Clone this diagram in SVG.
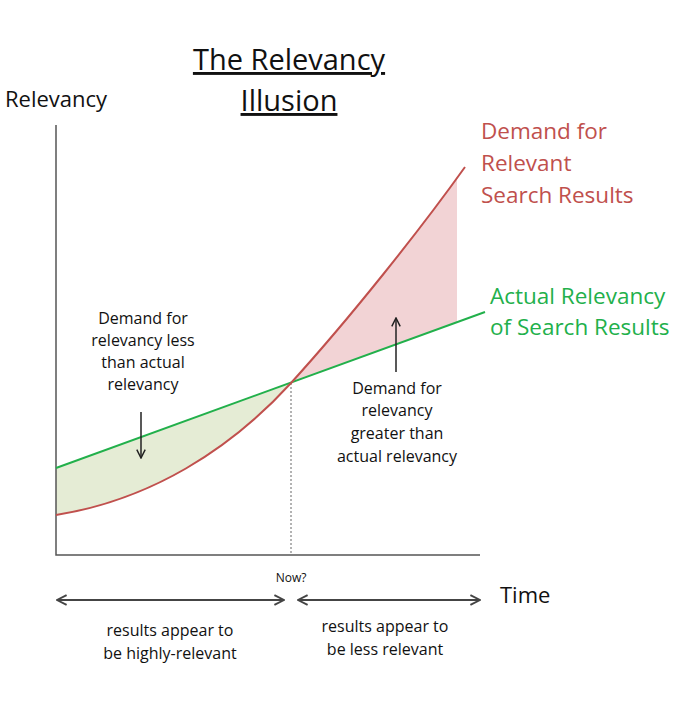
<svg xmlns="http://www.w3.org/2000/svg" width="692" height="702" viewBox="0 0 692 702">
<style>
text{font-family:"Open Sans","Liberation Sans",Arial,sans-serif;}
.lbl{font-size:16px;fill:#111;text-anchor:middle;}
.ax{stroke:#555;stroke-width:1.5;fill:none;}
.dbl{stroke:#444;stroke-width:2;fill:none;marker-start:url(#ah);marker-end:url(#ah);}
</style>
<defs>
<marker id="ah" viewBox="0 0 10 10" refX="9" refY="5" markerWidth="6" markerHeight="6" orient="auto-start-reverse"><path d="M1,1 L9,5 L1,9" fill="none" stroke="#444" stroke-width="1.6"/></marker>
<marker id="ua" viewBox="0 0 10 10" refX="9" refY="5" markerWidth="7" markerHeight="7" orient="auto"><path d="M1,1 L9,5 L1,9" fill="none" stroke="#222" stroke-width="1.4"/></marker>
<clipPath id="cl"><rect x="0" y="0" width="457" height="702"/></clipPath>
</defs>
<rect width="692" height="702" fill="#fff"/>
<g id="title">
<text x="289" y="70" font-size="29" text-anchor="middle" text-decoration="underline" fill="#111">The Relevancy</text>
<text x="289" y="111" font-size="29" text-anchor="middle" text-decoration="underline" fill="#111">Illusion</text>
</g>
<g id="fills">
<path d="M56,515 C150,500 230,450 291,383 L56,468 Z" fill="#e5ecd5"/>
<path clip-path="url(#cl)" d="M291,383 C350,318 420,230 465,167 L465,319 Z" fill="#f2d3d5"/>
</g>
<g id="axes">
<text x="5" y="107" font-size="22" fill="#111">Relevancy</text>
<path class="ax" d="M56,125 V555 H480"/>
<text x="500" y="603" font-size="22" fill="#111">Time</text>
</g>
<g id="connectors">
<path d="M291,383 V555" stroke="#666" stroke-width="1" stroke-dasharray="2,2"/>
<path d="M56,468 L485,312" stroke="#22b04b" stroke-width="2" fill="none"/>
<path d="M56,515 C150,500 230,450 291,383 C350,318 420,230 465,167" stroke="#c0504d" stroke-width="2" fill="none"/>
<path d="M141,412 V458" stroke="#222" stroke-width="1.5" marker-end="url(#ua)"/>
<path d="M396,372 V318" stroke="#222" stroke-width="1.5" marker-end="url(#ua)"/>
<path class="dbl" d="M57,600 H284"/>
<path class="dbl" d="M298,600 H480"/>
</g>
<g id="labels">
<text x="481" y="139" font-size="22.5" fill="#c0504d">Demand for</text>
<text x="481" y="171" font-size="22.5" fill="#c0504d">Relevant</text>
<text x="481" y="203" font-size="22.5" fill="#c0504d">Search Results</text>
<text x="490" y="304" font-size="22.5" fill="#22b04b">Actual Relevancy</text>
<text x="490" y="335" font-size="22.5" fill="#22b04b">of Search Results</text>
<text class="lbl" x="143" y="324">Demand for</text>
<text class="lbl" x="143" y="346">relevancy less</text>
<text class="lbl" x="143" y="368">than actual</text>
<text class="lbl" x="143" y="390">relevancy</text>
<text class="lbl" x="397" y="394">Demand for</text>
<text class="lbl" x="397" y="416">relevancy</text>
<text class="lbl" x="397" y="439">greater than</text>
<text class="lbl" x="397" y="462">actual relevancy</text>
<text x="291" y="582" font-size="12" text-anchor="middle" fill="#111">Now?</text>
<text class="lbl" x="170" y="636">results appear to</text>
<text class="lbl" x="170" y="659">be highly-relevant</text>
<text class="lbl" x="385" y="632">results appear to</text>
<text class="lbl" x="385" y="655">be less relevant</text>
</g>
</svg>
